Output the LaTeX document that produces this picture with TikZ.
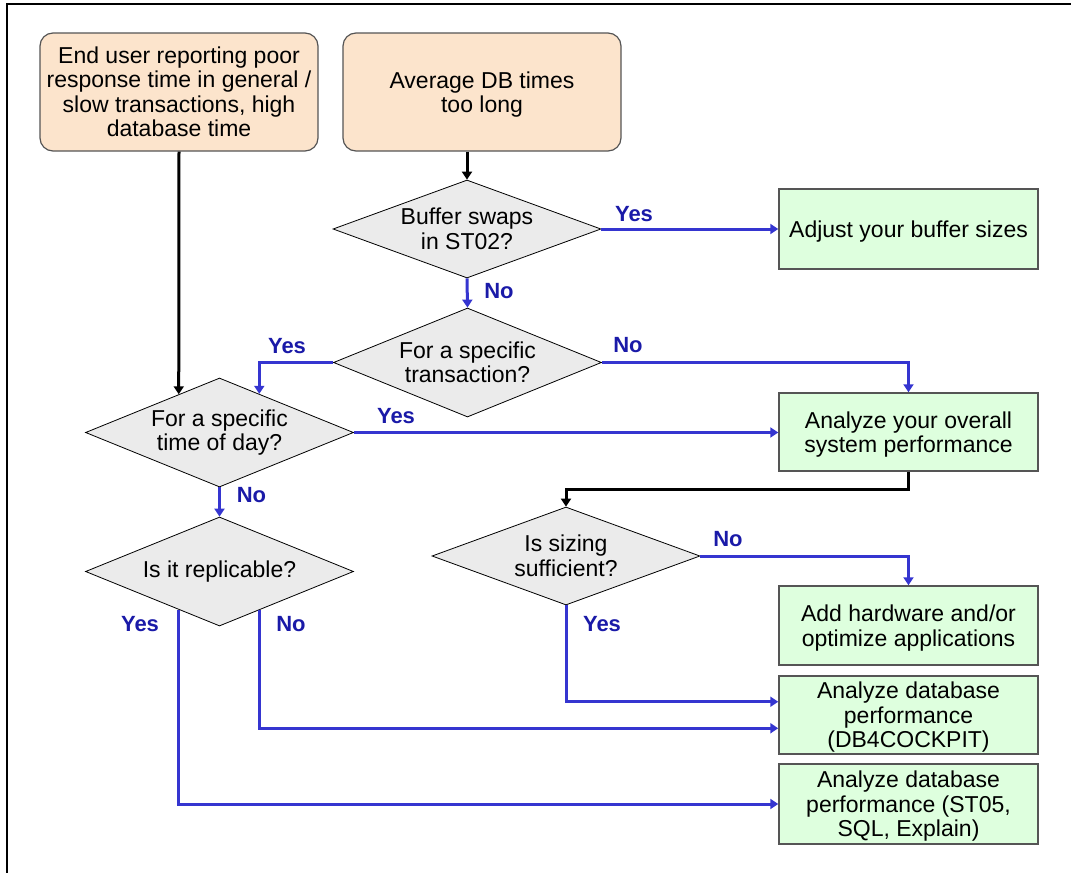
\documentclass[tikz,border=0pt]{standalone}
\usepackage{fontspec}
\setmainfont{Liberation Sans}
\usetikzlibrary{shapes.geometric,arrows.meta,calc}

\definecolor{startfill}{RGB}{252,228,204}
\definecolor{actfill}{RGB}{222,255,222}
\definecolor{askfill}{RGB}{235,235,235}
\definecolor{boxline}{RGB}{85,85,85}
\definecolor{flowblue}{RGB}{53,53,208}
\definecolor{labelblue}{RGB}{26,26,168}

\tikzset{
  bodytext/.style={font=\fontsize{23}{24.5}\selectfont, align=center},
  startbox/.style={draw=boxline, line width=1.2pt, fill=startfill, rounded corners=13pt,
    bodytext, inner sep=0pt, minimum width=278pt, minimum height=118pt},
  actbox/.style={draw=boxline, line width=1.5pt, fill=actfill, bodytext, text depth=0pt,
    inner sep=0pt, minimum width=259pt},
  ask/.style={draw=black, line width=0.8pt, fill=askfill, shape=diamond, inner sep=0pt,
    minimum width=268pt},
  asktext/.style={bodytext},
  answer/.style={font=\fontsize{22}{24}\bfseries\selectfont, text=labelblue, anchor=base, inner sep=0pt},
  tip/.style={-{Triangle[length=8pt,width=10pt]}},
  yesno/.style={draw=flowblue, line width=3pt, line join=miter, tip},
  flow/.style={draw=black, line width=3pt, line join=miter, tip},
}

\begin{document}
\begin{tikzpicture}[x=1pt,y=-1pt]
  \useasboundingbox (0,0) rectangle (1071,873);

  % frame
  \coordinate (frameTR) at (1071,4);
  \coordinate (frameTL) at (7,4);
  \coordinate (frameBL) at (7,873);
  \draw[line width=2pt] (frameTR) -- (frameTL) -- (frameBL);

  % starting points
  \node[startbox] (A) at (179,92) {End user reporting poor\\response time in general /\\slow transactions, high\\database time};
  \node[startbox, text depth=0pt] (B) at (482,92) {Average DB times\\too long};

  % decisions
  \node[ask, minimum height=98pt, label={[asktext]center:Buffer swaps\\in ST02?}] (D1) at (467,229) {};
  \node[ask, minimum height=109pt, label={[asktext]center:For a specific\\transaction?}] (D2) at (467.5,362.5) {};
  \node[ask, minimum height=109pt, label={[asktext]center:For a specific\\time of day?}] (D3) at (219.5,432.5) {};
  \node[ask, minimum height=109pt, label={[asktext]center:Is it replicable?}] (D4) at (219.5,571.5) {};
  \node[ask, minimum height=98pt, label={[asktext]center:Is sizing\\sufficient?}] (D5) at (566,556) {};

  % actions
  \node[actbox, minimum height=80pt] (C) at (908.5,229) {Adjust your buffer sizes};
  \node[actbox, minimum height=78pt] (E) at (908.5,432) {Analyze your overall\\system performance};
  \node[actbox, minimum height=79pt] (H) at (908.5,625.5) {Add hardware and/or\\optimize applications};
  \node[actbox, minimum height=78pt] (F) at (908.5,715) {Analyze database\\performance\\(DB4COCKPIT)};
  \node[actbox, minimum height=80pt] (G) at (908.5,804) {Analyze database\\performance (ST05,\\SQL, Explain)};

  % points on the slanted diamond edges
  \coordinate (D3inL) at ($(D3.north)!0.3034!(D3.west)$);
  \coordinate (D3inR) at ($(D3.north)!0.296!(D3.east)$);
  \coordinate (D4outL) at ($(D4.south)!0.3034!(D4.west)$);
  \coordinate (D4outR) at ($(D4.south)!0.296!(D4.east)$);
  \coordinate (Fin1) at ($(F.north west)!0.333!(F.south west)$);
  \coordinate (Fin2) at ($(F.north west)!0.667!(F.south west)$);
  \coordinate (ED5) at ($(E.south)!0.5!(D5.north)$);

  % black connectors
  \draw[flow] (A.south) -- (D3inL);
  \draw[flow] (B.south -| D1.north) -- (D1.north);
  \draw[flow] (E.south) |- (ED5) -| (D5.north);

  % answers
  \draw[yesno] (D1.east) -- (D1.east -| C.west);
  \draw[yesno] (D1.south) -- (D2.north);
  \draw[yesno] (D2.west) -| (D3inR);
  \draw[yesno] (D2.east) -| (E.north);
  \draw[yesno] (D3.east) -- (D3.east -| E.west);
  \draw[yesno] (D3.south) -- (D4.north);
  \draw[yesno] (D4outL) |- (G.west);
  \draw[yesno] (D4outR) |- (Fin2);
  \draw[yesno] (D5.east) -| (H.north);
  \draw[yesno] (D5.south) |- (Fin1);

  % answer labels
  \node[answer] (l1) at (634,221) {Yes};
  \node[answer] (l2) at (499,298) {No};
  \node[answer] (l3) at (287,353) {Yes};
  \node[answer] (l4) at (628,352) {No};
  \node[answer] (l5) at (396,423) {Yes};
  \node[answer] (l6) at (251.5,502) {No};
  \node[answer] (l7) at (140,631) {Yes};
  \node[answer] (l8) at (291,631) {No};
  \node[answer] (l9) at (728,546) {No};
  \node[answer] (l10) at (602,631) {Yes};
\end{tikzpicture}
\end{document}
